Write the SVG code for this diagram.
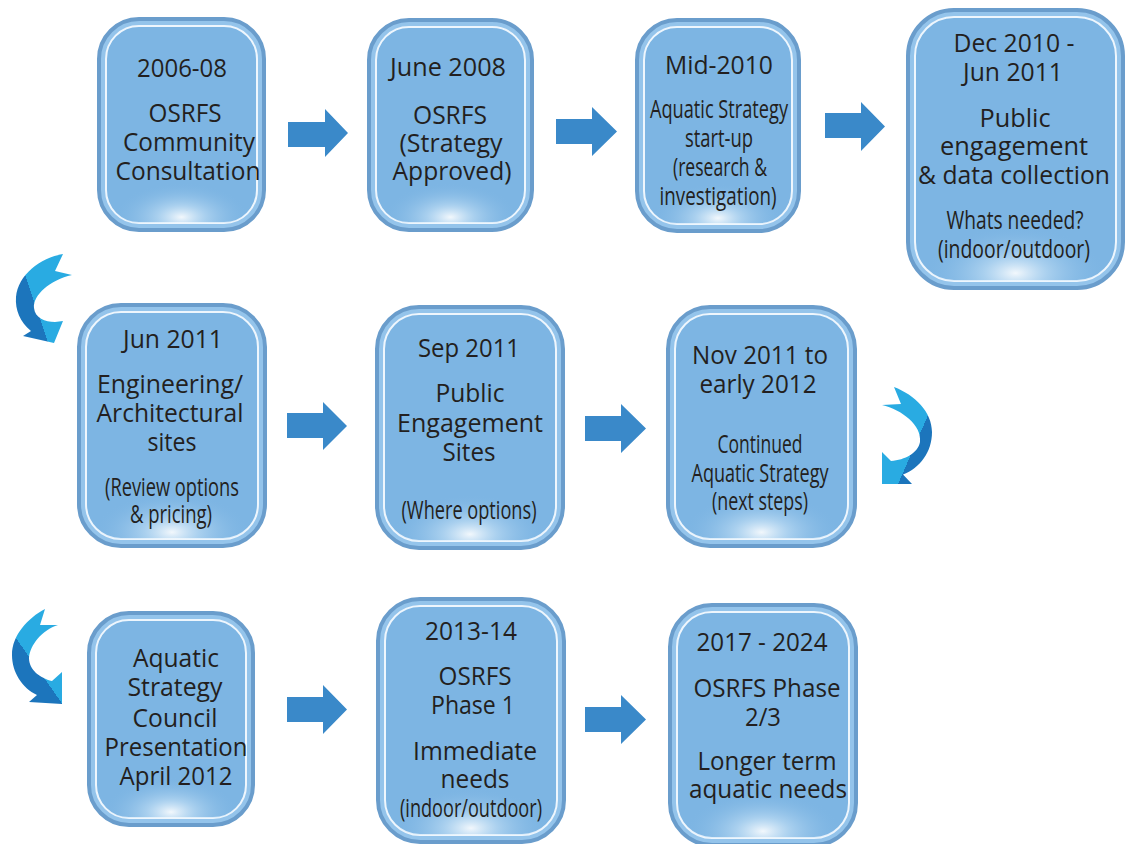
<svg xmlns="http://www.w3.org/2000/svg" width="1130" height="844" viewBox="0 0 1130 844">
<defs>
<radialGradient id="glow" cx="0.5" cy="0.97" r="0.5" gradientTransform="matrix(0.9 0 0 0.35 0.05 0.6305)">
<stop offset="0" stop-color="#ffffff" stop-opacity="0.9"/>
<stop offset="0.35" stop-color="#d6ebfa" stop-opacity="0.5"/>
<stop offset="1" stop-color="#7db5e3" stop-opacity="0"/>
</radialGradient>
<linearGradient id="cA" gradientUnits="userSpaceOnUse" x1="26.3" y1="294.1" x2="35.7" y2="290.9">
<stop offset="0.5" stop-color="#1c75bc"/><stop offset="0.5" stop-color="#29abe2"/>
</linearGradient>
<linearGradient id="cB" gradientUnits="userSpaceOnUse" x1="927.6" y1="428.7" x2="918.4" y2="424.7">
<stop offset="0.5" stop-color="#1c75bc"/><stop offset="0.5" stop-color="#29abe2"/>
</linearGradient>
<linearGradient id="cC" gradientUnits="userSpaceOnUse" x1="18.4" y1="650.4" x2="26.6" y2="644.6">
<stop offset="0.5" stop-color="#1c75bc"/><stop offset="0.5" stop-color="#29abe2"/>
</linearGradient>
</defs>
<style>
.outer{fill:#94c4eb;stroke:#6a9dcc;stroke-width:4}
.inner{fill:#7db5e3;stroke:#eef6fd;stroke-width:2}
.glow{fill:url(#glow);stroke:none}
text{font-family:"Open Sans","Noto Sans",sans-serif;font-size:25px;fill:#231f20;text-anchor:middle}
.blk{fill:#3a89c9}
</style>
<rect width="1130" height="844" fill="#ffffff"/>

<g id="connectors">
<path class="blk" d="M288,122 H325 V109 L348,133 L325,157 V147 H288 Z"/>
<path class="blk" d="M556,119 H592 V107 L617,131.5 L592,156 V144 H556 Z"/>
<path class="blk" d="M825,113 H861 V102 L885,126.5 L861,151 V138 H825 Z"/>
<path class="blk" d="M287,413 H323 V402 L347,426 L323,450 V438 H287 Z"/>
<path class="blk" d="M585,416 H621 V404 L646,428.5 L621,453 V441 H585 Z"/>
<path class="blk" d="M287,697 H323 V685 L347,709.5 L323,734 V722 H287 Z"/>
<path class="blk" d="M585,707 H621 V695 L646,719.5 L621,744 V732 H585 Z"/>
<path fill="url(#cA)" d="M63,254 L55,271 L72,275 C50,280 33,295 34,308 C35,318 45,322 55,322 L63,321 L54,343 L23,336 L31,331 C20,322 15,310 16,297 C18,275 40,258 63,254 Z"/>
<path fill="url(#cB)" d="M894,387 L901,404 L882,405 C902,410 922,425 920,442 C918,453 905,460 891,461 L882,452 L882,484 L912,484 L903,474.5 C920,468 932,452 932,432 C932,412 915,395 894,387 Z"/>
<path fill="url(#cC)" d="M45,609 L40,625 L58,625 C42,630 30,645 29,658 C29,670 40,678 52,681 L62,672 L62,704 L29,702 L37,695 C22,688 12,672 12,655 C12,635 28,618 45,609 Z"/>
</g>

<g id="n1">
<rect class="outer" x="99" y="19" width="165" height="211" rx="40"/>
<rect class="inner" x="106" y="26" width="151" height="197" rx="33"/>
<rect class="glow" x="106" y="26" width="151" height="197" rx="33"/>
<text x="182" y="77" textLength="90" lengthAdjust="spacingAndGlyphs">2006-08</text>
<text x="185" y="122" textLength="73" lengthAdjust="spacingAndGlyphs">OSRFS</text>
<text x="189" y="151" textLength="132" lengthAdjust="spacingAndGlyphs">Community</text>
<text x="188" y="180" textLength="145" lengthAdjust="spacingAndGlyphs">Consultation</text>
</g>

<g id="n2">
<rect class="outer" x="369" y="20" width="163" height="210" rx="40"/>
<rect class="inner" x="376" y="27" width="149" height="196" rx="33"/>
<rect class="glow" x="376" y="27" width="149" height="196" rx="33"/>
<text x="448" y="76" textLength="116" lengthAdjust="spacingAndGlyphs">June 2008</text>
<text x="450" y="124" textLength="74" lengthAdjust="spacingAndGlyphs">OSRFS</text>
<text x="451" y="152" textLength="103" lengthAdjust="spacingAndGlyphs">(Strategy</text>
<text x="452" y="180" textLength="119" lengthAdjust="spacingAndGlyphs">Approved)</text>
</g>

<g id="n3">
<rect class="outer" x="637" y="20" width="162" height="211" rx="40"/>
<rect class="inner" x="644" y="27" width="148" height="197" rx="33"/>
<rect class="glow" x="644" y="27" width="148" height="197" rx="33"/>
<text x="719" y="74" textLength="108" lengthAdjust="spacingAndGlyphs">Mid-2010</text>
<text x="719" y="118" textLength="138" lengthAdjust="spacingAndGlyphs">Aquatic Strategy</text>
<text x="719" y="147" textLength="68" lengthAdjust="spacingAndGlyphs">start-up</text>
<text x="720" y="176" textLength="94" lengthAdjust="spacingAndGlyphs">(research &amp;</text>
<text x="718" y="205" textLength="117" lengthAdjust="spacingAndGlyphs">investigation)</text>
</g>

<g id="n4">
<rect class="outer" x="908" y="10" width="215" height="278" rx="46"/>
<rect class="inner" x="915" y="17" width="201" height="264" rx="39"/>
<rect class="glow" x="915" y="17" width="201" height="264" rx="39"/>
<text x="1014" y="52" textLength="121" lengthAdjust="spacingAndGlyphs">Dec 2010 -</text>
<text x="1013" y="81" textLength="100" lengthAdjust="spacingAndGlyphs">Jun 2011</text>
<text x="1015" y="127" textLength="71" lengthAdjust="spacingAndGlyphs">Public</text>
<text x="1014" y="155" textLength="148" lengthAdjust="spacingAndGlyphs">engagement</text>
<text x="1014" y="184" textLength="192" lengthAdjust="spacingAndGlyphs">&amp; data collection</text>
<text x="1015" y="229" textLength="137" lengthAdjust="spacingAndGlyphs">Whats needed?</text>
<text x="1014" y="258" textLength="152" lengthAdjust="spacingAndGlyphs">(indoor/outdoor)</text>
</g>

<g id="n5">
<rect class="outer" x="79" y="305" width="186" height="241" rx="42"/>
<rect class="inner" x="86" y="312" width="172" height="227" rx="35"/>
<rect class="glow" x="86" y="312" width="172" height="227" rx="35"/>
<text x="173" y="348" textLength="100" lengthAdjust="spacingAndGlyphs">Jun 2011</text>
<text x="170" y="393" textLength="146" lengthAdjust="spacingAndGlyphs">Engineering/</text>
<text x="170" y="422" textLength="147" lengthAdjust="spacingAndGlyphs">Architectural</text>
<text x="172" y="451" textLength="49" lengthAdjust="spacingAndGlyphs">sites</text>
<text x="172" y="496" textLength="134" lengthAdjust="spacingAndGlyphs">(Review options</text>
<text x="171" y="523" textLength="82" lengthAdjust="spacingAndGlyphs">&amp; pricing)</text>
</g>

<g id="n6">
<rect class="outer" x="377" y="307" width="186" height="241" rx="42"/>
<rect class="inner" x="384" y="314" width="172" height="227" rx="35"/>
<rect class="glow" x="384" y="314" width="172" height="227" rx="35"/>
<text x="469" y="357" textLength="102" lengthAdjust="spacingAndGlyphs">Sep 2011</text>
<text x="470" y="402" textLength="69" lengthAdjust="spacingAndGlyphs">Public</text>
<text x="470" y="432" textLength="146" lengthAdjust="spacingAndGlyphs">Engagement</text>
<text x="469" y="461" textLength="53" lengthAdjust="spacingAndGlyphs">Sites</text>
<text x="469" y="519" textLength="135" lengthAdjust="spacingAndGlyphs">(Where options)</text>
</g>

<g id="n7">
<rect class="outer" x="668" y="307" width="187" height="239" rx="42"/>
<rect class="inner" x="675" y="314" width="173" height="225" rx="35"/>
<rect class="glow" x="675" y="314" width="173" height="225" rx="35"/>
<text x="760" y="364" textLength="136" lengthAdjust="spacingAndGlyphs">Nov 2011 to</text>
<text x="758" y="393" textLength="117" lengthAdjust="spacingAndGlyphs">early 2012</text>
<text x="760" y="453" textLength="85" lengthAdjust="spacingAndGlyphs">Continued</text>
<text x="760" y="482" textLength="137" lengthAdjust="spacingAndGlyphs">Aquatic Strategy</text>
<text x="760" y="510" textLength="96" lengthAdjust="spacingAndGlyphs">(next steps)</text>
</g>

<g id="n8">
<rect class="outer" x="89" y="613" width="164" height="212" rx="40"/>
<rect class="inner" x="96" y="620" width="150" height="198" rx="33"/>
<rect class="glow" x="96" y="620" width="150" height="198" rx="33"/>
<text x="176" y="667" textLength="86" lengthAdjust="spacingAndGlyphs">Aquatic</text>
<text x="175" y="696" textLength="95" lengthAdjust="spacingAndGlyphs">Strategy</text>
<text x="175" y="727" textLength="85" lengthAdjust="spacingAndGlyphs">Council</text>
<text x="176" y="756" textLength="143" lengthAdjust="spacingAndGlyphs">Presentation</text>
<text x="176" y="785" textLength="113" lengthAdjust="spacingAndGlyphs">April 2012</text>
</g>

<g id="n9">
<rect class="outer" x="378" y="599" width="186" height="243" rx="42"/>
<rect class="inner" x="385" y="606" width="172" height="229" rx="35"/>
<rect class="glow" x="385" y="606" width="172" height="229" rx="35"/>
<text x="471" y="640" textLength="92" lengthAdjust="spacingAndGlyphs">2013-14</text>
<text x="475" y="685" textLength="73" lengthAdjust="spacingAndGlyphs">OSRFS</text>
<text x="473" y="714" textLength="84" lengthAdjust="spacingAndGlyphs">Phase 1</text>
<text x="475" y="760" textLength="124" lengthAdjust="spacingAndGlyphs">Immediate</text>
<text x="475" y="788" textLength="69" lengthAdjust="spacingAndGlyphs">needs</text>
<text x="471" y="817" textLength="142" lengthAdjust="spacingAndGlyphs">(indoor/outdoor)</text>
</g>

<g id="n10">
<rect class="outer" x="670" y="605" width="186" height="240" rx="42"/>
<rect class="inner" x="677" y="612" width="172" height="226" rx="35"/>
<rect class="glow" x="677" y="612" width="172" height="226" rx="35"/>
<text x="762" y="651" textLength="131" lengthAdjust="spacingAndGlyphs">2017 - 2024</text>
<text x="767" y="697" textLength="147" lengthAdjust="spacingAndGlyphs">OSRFS Phase</text>
<text x="763" y="726" textLength="36" lengthAdjust="spacingAndGlyphs">2/3</text>
<text x="767" y="770" textLength="139" lengthAdjust="spacingAndGlyphs">Longer term</text>
<text x="768" y="798" textLength="158" lengthAdjust="spacingAndGlyphs">aquatic needs</text>
</g>
</svg>
